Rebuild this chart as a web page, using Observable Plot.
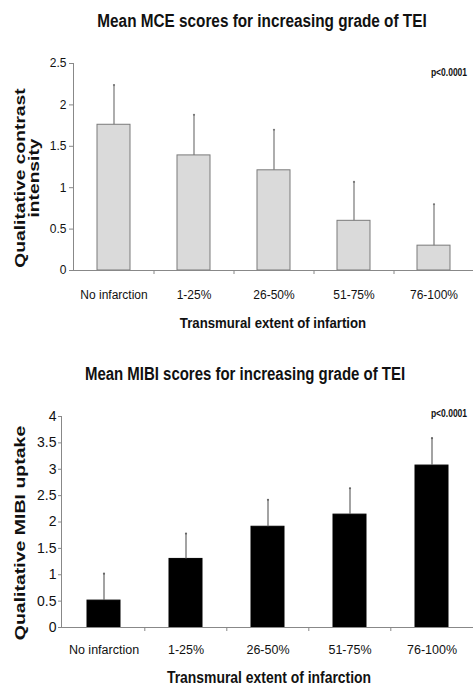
<!DOCTYPE html>
<html><head><meta charset="utf-8">
<script src="https://cdn.jsdelivr.net/npm/d3@7"></script>
<script src="https://cdn.jsdelivr.net/npm/@observablehq/plot@0.6"></script>
<style>
body{margin:0;background:#fff;}
#wrap{position:relative;width:474px;height:686px;overflow:hidden;background:#fff;font-family:"Liberation Sans",Arial,sans-serif;color:#111;}
.abs{position:absolute;white-space:nowrap;line-height:1;z-index:2;}
.title{font-weight:bold;font-size:17.5px;}
.pval{font-weight:bold;font-size:10px;}
.xt{font-weight:bold;}
.yt{font-weight:bold;font-size:15px;text-align:center;line-height:14px;}
.chart{position:absolute;left:0;z-index:1;}
</style></head>
<body>
<div id="wrap">
  <div id="c1" class="chart" style="top:40px"></div>
  <div id="c2" class="chart" style="top:400px"></div>

  <div class="abs title" style="left:262px;top:22px;transform:translate(-50%,-50%) scale(0.875,1)">Mean MCE scores for increasing grade of TEI</div>
  <div class="abs pval" style="left:449px;top:73px;transform:translate(-50%,-50%) scale(0.85,1)">p&lt;0.0001</div>
  <div class="abs yt" style="left:27px;top:178px;transform:translate(-50%,-50%) rotate(-90deg) scale(1.28,1)">Qualitative contrast<br>intensity</div>
  <div class="abs xt" style="left:273px;top:322px;font-size:15px;transform:translate(-50%,-50%) scale(0.88,1)">Transmural extent of infartion</div>

  <div class="abs title" style="left:245px;top:375px;transform:translate(-50%,-50%) scale(0.855,1)">Mean MIBI scores for increasing grade of TEI</div>
  <div class="abs pval" style="left:449px;top:414px;transform:translate(-50%,-50%) scale(0.85,1)">p&lt;0.0001</div>
  <div class="abs yt" style="left:20px;top:533px;transform:translate(-50%,-50%) rotate(-90deg) scale(1.3,1)">Qualitative MIBI uptake</div>
  <div class="abs xt" style="left:269px;top:678px;font-size:16px;transform:translate(-50%,-50%) scale(0.87,1)">Transmural extent of infarction</div>
</div>
<script>
const categories = ["No infarction", "1-25%", "26-50%", "51-75%", "76-100%"];
const mceMean = [1.76, 1.39, 1.21, 0.60, 0.30];
const mceSD   = [0.48, 0.49, 0.49, 0.47, 0.50];
const mibiMean = [0.51, 1.30, 1.91, 2.14, 3.07];
const mibiSD   = [0.51, 0.48, 0.51, 0.50, 0.52];
const mceTicks = [0, 0.5, 1, 1.5, 2, 2.5];
const mibiTicks = [0, 0.5, 1, 1.5, 2, 2.5, 3, 3.5, 4];

function chart(o) {
  const rows = categories.map((c, i) => ({c, m: o.mean[i], u: o.mean[i] + o.sd[i]}));
  const step = (o.width - o.ml - o.mr) / categories.length;
  const yMax = o.ticks[o.ticks.length - 1];
  const tickLen = yMax * 4 / (o.height - o.mt - o.mb);
  return Plot.plot({
    width: o.width, height: o.height,
    marginTop: o.mt, marginBottom: o.mb, marginLeft: o.ml, marginRight: o.mr,
    style: {fontFamily: '"Liberation Sans",Arial,sans-serif', background: "white", color: "#111", overflow: "visible"},
    x: {domain: categories, paddingInner: o.pad, paddingOuter: o.pad / 2, label: null},
    y: {domain: [0, yMax], label: null},
    marks: [
      Plot.barY(rows, {x: "c", y: "m", fill: o.fill, stroke: o.stroke, strokeWidth: 1}),
      Plot.ruleX(rows, {x: "c", y1: "m", y2: "u", stroke: o.err, strokeWidth: 1.2}),
      Plot.dot(rows, {x: "c", y: "u", r: 1.1, fill: o.err, stroke: null}),
      Plot.ruleY([0], {stroke: "#888"}),
      Plot.frame({anchor: "left", stroke: "#888"}),
      Plot.ruleX(categories.slice(1), {x: d => d, dx: -step / 2, y1: 0, y2: -tickLen, stroke: "#888"}),
      Plot.axisY({ticks: o.ticks, tickSize: o.tickSize, tickPadding: o.tickPad, tickFormat: d => String(d), fontSize: o.yFont, stroke: "#888", label: null}),
      Plot.axisX({tickSize: 0, tickPadding: o.xPad, fontSize: o.xFont, label: null})
    ]
  });
}

document.getElementById("c1").append(chart({
  mean: mceMean, sd: mceSD, ticks: mceTicks,
  width: 474, height: 290, mt: 23, mb: 60, ml: 73, mr: 1, pad: 0.59,
  fill: "#dadada", stroke: "#7a7a7a", err: "#777",
  tickSize: 4, tickPad: 3, yFont: 12, xFont: 12, xPad: 20
}));
document.getElementById("c2").append(chart({
  mean: mibiMean, sd: mibiSD, ticks: mibiTicks,
  width: 474, height: 286, mt: 16, mb: 59, ml: 61, mr: 1, pad: 0.6,
  fill: "#000", stroke: "#000", err: "#666",
  tickSize: 3, tickPad: 2, yFont: 14, xFont: 12.5, xPad: 18
}));
</script>
</body></html>
